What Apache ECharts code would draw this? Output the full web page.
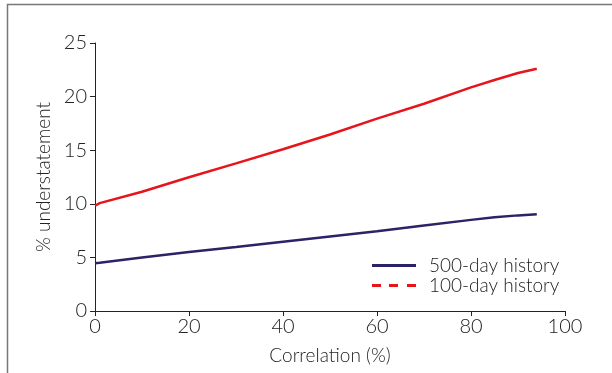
<!DOCTYPE html>
<html>
<head>
<meta charset="utf-8">
<script src="https://cdn.jsdelivr.net/npm/echarts@6/dist/echarts.min.js"></script>
<style>
html,body{margin:0;padding:0;background:#fff;}
#c{width:612px;height:373px;}
</style>
</head>
<body>
<div id="c"></div>
<script>
const correlation = [0, 1, 10, 20, 30, 40, 50, 60, 70, 80, 85, 90, 94];
const hist500 = [4.45, 4.5, 5.0, 5.5, 5.98, 6.47, 6.96, 7.45, 7.98, 8.5, 8.74, 8.92, 9.02];
const hist100 = [9.82, 10.06, 11.13, 12.48, 13.77, 15.09, 16.47, 17.94, 19.33, 20.86, 21.55, 22.2, 22.6];
const seriesNames = ['500-day history', '100-day history'];
const xTitle = 'Correlation (%)';
const yTitle = '% understatement';

const font = 'Lato';
const textColor = '#222';
const chart = echarts.init(document.getElementById('c'));
chart.setOption({
  animation: false,
  backgroundColor: '#fff',
  grid: {left: 95, right: 47, top: 43, bottom: 62},
  graphic: [{
    type: 'polyline',
    shape: {points: [[7.5, 373], [7.5, 4.5], [612, 4.5]]},
    style: {stroke: '#777', lineWidth: 1.5, fill: null}
  }],
  legend: {
    orient: 'vertical',
    left: 367, top: 251,
    itemWidth: 44, itemHeight: 14, itemGap: 1,
    textStyle: {fontFamily: font, fontWeight: 300, fontSize: 19, color: textColor, padding: [0, 0, 0, 8]},
    data: [
      {name: seriesNames[0], icon: 'path://M0,0L44,0L44,3L0,3Z', itemStyle: {color: '#2e2266'}},
      {name: seriesNames[1], icon: 'path://M0,0L9,0L9,3L0,3ZM17,0L26,0L26,3L17,3ZM35,0L44,0L44,3L35,3Z', itemStyle: {color: '#e8141b'}}
    ]
  },
  xAxis: {
    type: 'value', min: 0, max: 100, interval: 20,
    name: xTitle, nameLocation: 'middle', nameGap: 35,
    nameTextStyle: {fontFamily: font, fontWeight: 300, fontSize: 19, color: textColor},
    axisLine: {show: true, lineStyle: {color: '#222', width: 1}},
    axisTick: {show: true, length: 5, lineStyle: {color: '#222'}},
    axisLabel: {fontFamily: font, fontWeight: 300, fontSize: 20, color: textColor, margin: 6},
    splitLine: {show: false}
  },
  yAxis: {
    type: 'value', min: 0, max: 25, interval: 5,
    name: yTitle, nameLocation: 'middle', nameGap: 40, nameRotate: 90,
    nameTextStyle: {fontFamily: font, fontWeight: 300, fontSize: 19, color: textColor},
    axisLine: {show: true, lineStyle: {color: '#222', width: 1}},
    axisTick: {show: true, length: 5, lineStyle: {color: '#222'}},
    axisLabel: {fontFamily: font, fontWeight: 300, fontSize: 20, color: textColor, margin: 8},
    splitLine: {show: false}
  },
  series: [
    {name: seriesNames[0], type: 'line', showSymbol: false, smooth: false,
     data: correlation.map((c, i) => [c, hist500[i]]),
     lineStyle: {color: '#2e2266', width: 2.5}, itemStyle: {color: '#2e2266'}},
    {name: seriesNames[1], type: 'line', showSymbol: false, smooth: false,
     data: correlation.map((c, i) => [c, hist100[i]]),
     lineStyle: {color: '#e8141b', width: 2.5}, itemStyle: {color: '#e8141b'}}
  ]
});
</script>
</body>
</html>
